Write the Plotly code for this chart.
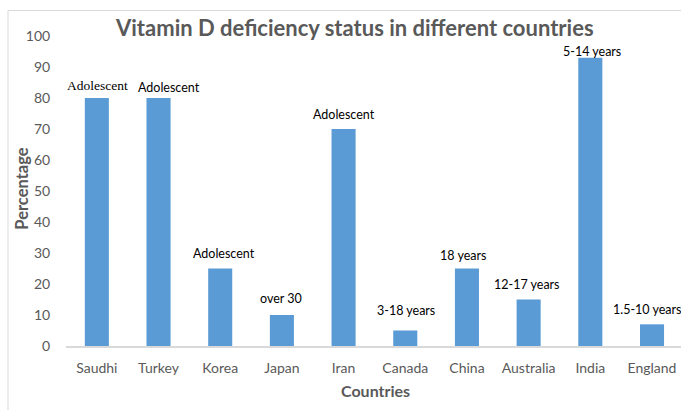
import plotly.graph_objects as go

countries = ["Saudhi", "Turkey", "Korea", "Japan", "Iran", "Canada", "China", "Australia", "India", "England"]
percentages = [80, 80, 25, 10, 70, 5, 25, 15, 93, 7]
age_labels = ["Adolescent", "Adolescent", "Adolescent", "over 30", "Adolescent",
              "3-18 years", "18 years", "12-17 years", "5-14 years", "1.5-10 years"]

# label styling (offsets in px relative to bar top / center)
label_dx = [1, 10, 4, -1, 0, 1, -4, -2, 2, -5]
label_dy = [13, 11, 15, 17, 15, 20, 13, 15, 6, 15]
label_font = ["Liberation Serif", "Lato", "Lato", "Lato", "Lato", "Lato", "Lato", "Lato", "Lato", "Lato"]

W, H = 681, 410
L, R, T, B = 66, 0, 36, 64
pw, ph = W - L - R, H - T - B

def px_x(p):
    return (p - L) / pw

def px_y(p):
    return (H - B - p) / ph

fig = go.Figure()
fig.add_trace(go.Bar(
    x=list(range(len(countries))),
    y=percentages,
    marker=dict(color="#5B9BD5", line=dict(width=0)),
    width=0.39,
    hoverinfo="skip",
))

annotations = []
for i, (v, t) in enumerate(zip(percentages, age_labels)):
    annotations.append(dict(
        x=i, y=v, xref="x", yref="y", text=t, showarrow=False,
        xshift=label_dx[i], yshift=label_dy[i],
        font=dict(family=label_font[i], size=12.5 if label_font[i] == "Lato" else 13.5, color="#000000"),
        xanchor="center", yanchor="middle",
    ))

annotations.append(dict(
    x=px_x(354.5), y=px_y(28), xref="paper", yref="paper",
    text="<b>Vitamin D deficiency status in different countries</b>",
    showarrow=False, xanchor="center", yanchor="middle",
    font=dict(family="Lato", size=22, color="#595959"),
))
annotations.append(dict(
    x=px_x(375), y=px_y(390), xref="paper", yref="paper",
    text="<b>Countries</b>", showarrow=False, xanchor="center", yanchor="middle",
    font=dict(family="Lato", size=16, color="#595959"),
))
annotations.append(dict(
    x=px_x(21.7), y=px_y(189), xref="paper", yref="paper",
    text="<b>Percentage</b>", showarrow=False, xanchor="center", yanchor="middle",
    textangle=-90,
    font=dict(family="Lato", size=16.5, color="#595959"),
))

fig.update_layout(
    width=W, height=H,
    margin=dict(l=L, r=R, t=T, b=B, pad=0),
    paper_bgcolor="white", plot_bgcolor="white",
    showlegend=False,
    annotations=annotations,
    shapes=[dict(
        type="rect", xref="paper", yref="paper",
        x0=px_x(8), x1=px_x(W + 20), y0=px_y(H + 20), y1=px_y(10.5),
        line=dict(color="#d9d9d9", width=1), fillcolor="rgba(0,0,0,0)", layer="below",
    )],
    xaxis=dict(
        tickmode="array", tickvals=list(range(len(countries))), ticktext=countries,
        range=[-0.5, 9.47], showgrid=False, zeroline=False,
        showline=True, linecolor="#d9d9d9", linewidth=1.5,
        ticks="outside", ticklen=8, tickcolor="rgba(0,0,0,0)",
        tickfont=dict(family="Lato", size=14, color="#595959"),
    ),
    yaxis=dict(
        range=[0, 100], tickmode="linear", tick0=0, dtick=10,
        showgrid=False, zeroline=False, showline=False,
        ticks="outside", ticklen=12, tickcolor="rgba(0,0,0,0)",
        tickfont=dict(family="Lato", size=14, color="#595959"),
    ),
)

fig.write_html("out.html")
